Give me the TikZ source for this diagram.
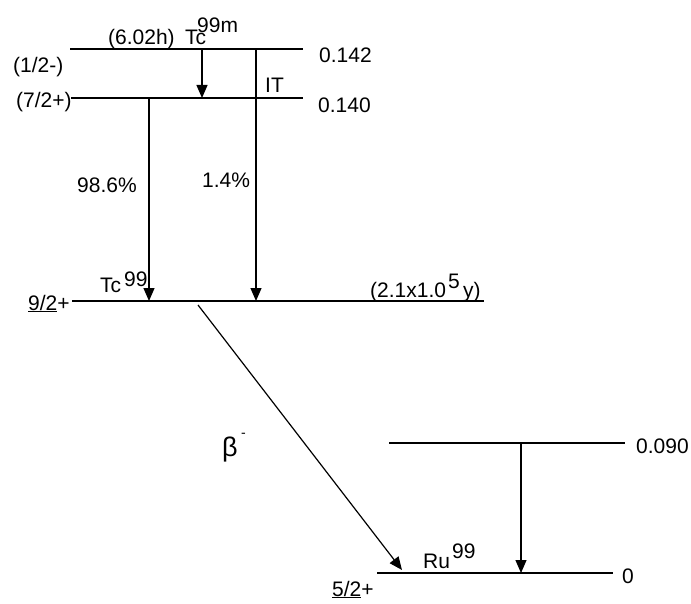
\documentclass[tikz,border=0pt]{standalone}
\usepackage{fontspec}
\setmainfont{Liberation Sans}
\usetikzlibrary{arrows.meta}
\begin{document}
\begin{tikzpicture}[x=1pt,y=-1pt,
  level/.style={line width=2.2pt},
  trans/.style={line width=1.2pt,-{Triangle[length=13pt,width=11pt]}},
  lbl/.style={anchor=base west,inner sep=0pt,font=\fontsize{21}{25}\selectfont},
  big/.style={anchor=base west,inner sep=0pt,font=\fontsize{27}{30}\selectfont},
  sml/.style={anchor=base west,inner sep=0pt,font=\fontsize{14}{16}\selectfont}]
\useasboundingbox (0,0) rectangle (691,604);
\fill[white] (0,0) rectangle (691,604);
% level end points
\coordinate (a1) at (70,49);  \coordinate (a2) at (303,49);
\coordinate (b1) at (71,98);  \coordinate (b2) at (303,98);
\coordinate (c1) at (72,301); \coordinate (c2) at (484,301);
\coordinate (d1) at (389,443); \coordinate (d2) at (625,443);
\coordinate (e1) at (377,573); \coordinate (e2) at (613,573);
\draw[level] (a1) -- (a2);
\draw[level] (b1) -- (b2);
\draw[level] (c1) -- (c2);
\draw[level] (d1) -- (d2);
\draw[level] (e1) -- (e2);
% transition end points
\coordinate (t1s) at (202,49);  \coordinate (t1e) at (202,98);
\coordinate (t2s) at (256,49);  \coordinate (t2e) at (256,301);
\coordinate (t3s) at (149,98);  \coordinate (t3e) at (149,301);
\coordinate (t4s) at (198,305); \coordinate (t4e) at (402,570);
\coordinate (t5s) at (521,443); \coordinate (t5e) at (521,573);
\draw[trans] (t1s) -- (t1e);
\draw[trans] (t2s) -- (t2e);
\draw[trans] (t3s) -- (t3e);
\draw[trans] (t4s) -- (t4e);
\draw[trans] (t5s) -- (t5e);
% labels
\node[lbl] (l1) at (108,45) {(6.02h)};
\node[lbl] (l2) at (185,45) {Tc};
\node[lbl] (l3) at (197,33) {99m};
\node[lbl] (l4) at (13,73) {(1/2-)};
\node[lbl] (l5) at (16,108) {(7/2+)};
\node[lbl] (l6) at (319,63) {0.142};
\node[lbl] (l7) at (318,113) {0.140};
\node[lbl] (l8) at (265,93) {IT};
\node[lbl] (l9) at (77,193) {98.6\%};
\node[lbl] (l10) at (202,188) {1.4\%};
\node[lbl] (l11) at (100,292) {Tc};
\node[lbl] (l12) at (124,287) {99};
\node[lbl] (l13) at (370,298) {(2.1x1.0};
\node[lbl] (l14) at (448,288) {5};
\node[lbl] (l15) at (463,298) {y)};
\node[lbl] (l16) at (28,310) {\underline{9/2}+};
\node[big] (l17) at (222,456) {β};
\node[sml] (l18) at (241,437) {-};
\node[lbl] (l19) at (636,453) {0.090};
\node[lbl] (l20) at (423,568) {Ru};
\node[lbl] (l21) at (452,558) {99};
\node[lbl] (l22) at (622,583) {0};
\node[lbl] (l23) at (332,596) {\underline{5/2}+};
\end{tikzpicture}
\end{document}
